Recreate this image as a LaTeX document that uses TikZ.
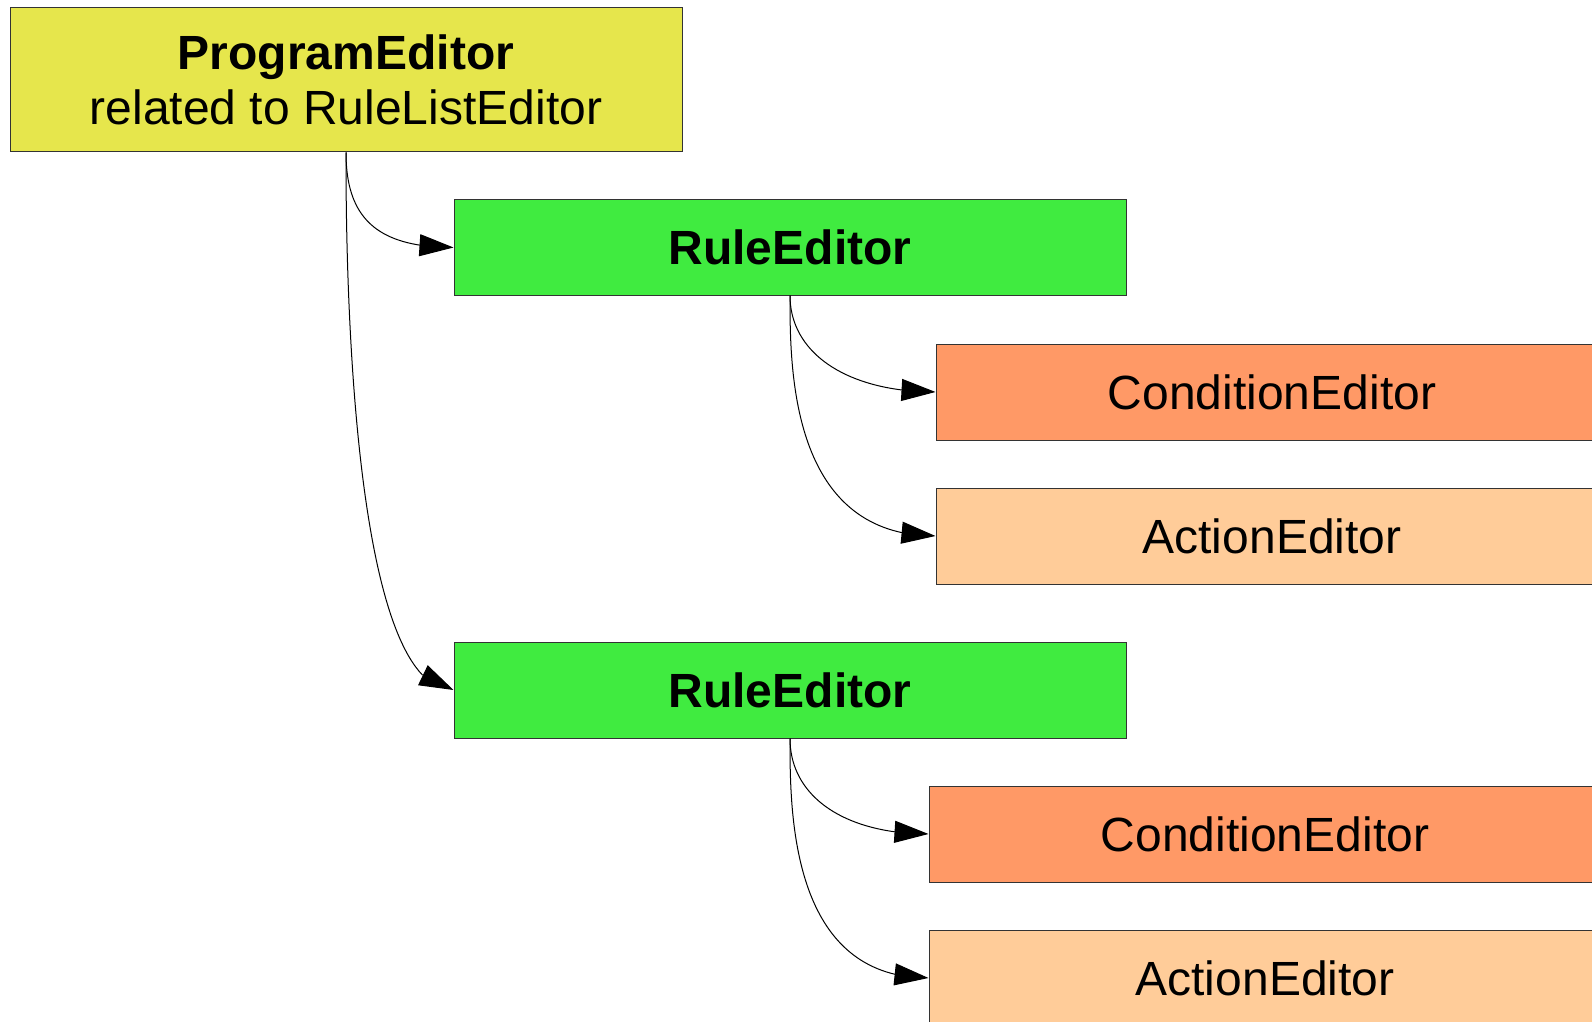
\documentclass[tikz,border=0pt]{standalone}
\usepackage{fontspec}
\setmainfont{Liberation Sans}
\usetikzlibrary{arrows.meta,bending}

\definecolor{peyellow}{RGB}{230,230,76}
\definecolor{regreen}{RGB}{64,235,64}
\definecolor{ceorange}{RGB}{255,153,102}
\definecolor{aepeach}{RGB}{255,204,153}
\definecolor{boxline}{RGB}{51,51,51}

\begin{document}
\begin{tikzpicture}[x=0.5pt,y=-0.5pt,
  box/.style={draw=boxline, line width=0.5pt, minimum width=336pt,
    minimum height=48pt, inner sep=0pt, align=center,
    font=\fontsize{24}{27.5}\selectfont},
  link/.style={line width=0.5pt, draw=black,
    -{Triangle[length=17pt,width=11pt,flex]}}]

  \useasboundingbox (0,0) rectangle (1592,1022);
  \clip (0,0) rectangle (1592,1022);

  % editor boxes
  \node[box, fill=peyellow, minimum height=72pt] (pe) at (346,80)
    {\textbf{ProgramEditor}\\related to RuleListEditor};
  \node[box, fill=regreen, minimum height=47.5pt] (re1) at (790,247.5) {\textbf{RuleEditor}};
  \node[box, fill=ceorange] (ce1) at (1272,392) {ConditionEditor};
  \node[box, fill=aepeach] (ae1) at (1272,536) {ActionEditor};
  \node[box, fill=regreen] (re2) at (790,690) {\textbf{RuleEditor}};
  \node[box, fill=ceorange] (ce2) at (1265,834) {ConditionEditor};
  \node[box, fill=aepeach] (ae2) at (1265,978) {ActionEditor};

  % containment connectors
  \draw[link] (pe.south) .. controls +(0,66) and +(-76,0) .. (re1.west);
  \draw[link] (pe.south) .. controls +(0,70) and +(-108,0) .. (re2.west);
  \draw[link] (re1.south) .. controls +(0,58) and +(-88,0) .. (ce1.west);
  \draw[link] (re1.south) .. controls +(0,72) and +(-146,0) .. (ae1.west);
  \draw[link] (re2.south) .. controls +(0,58) and +(-84,0) .. (ce2.west);
  \draw[link] (re2.south) .. controls +(0,72) and +(-139,0) .. (ae2.west);
\end{tikzpicture}
\end{document}
